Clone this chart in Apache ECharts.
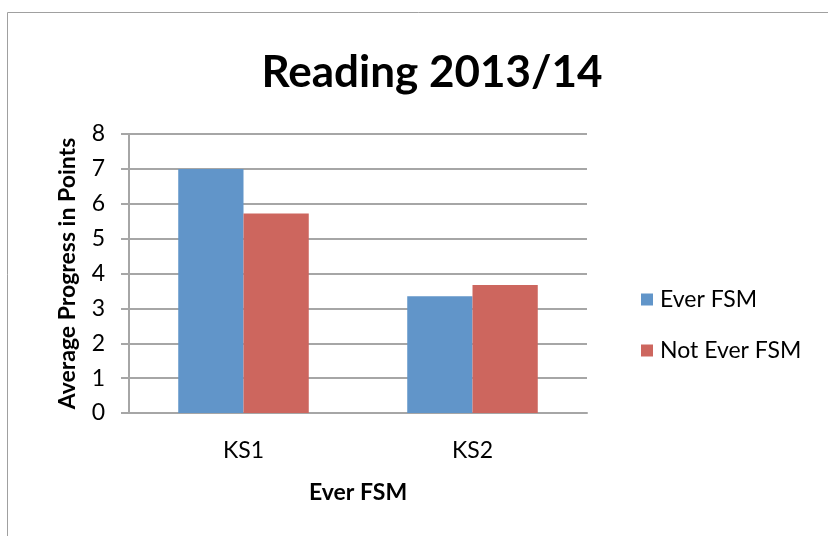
<!DOCTYPE html>
<html>
<head>
<meta charset="utf-8">
<script src="https://cdn.jsdelivr.net/npm/echarts@6/dist/echarts.min.js"></script>
<style>
  html, body { margin: 0; padding: 0; background: #fff; }
  #chart { width: 828px; height: 536px; }
</style>
</head>
<body>
<div id="chart"></div>
<script>
// chart data
const categories = ['KS1', 'KS2']
const everFsm = [7.0, 3.35]
const notEverFsm = [5.72, 3.67]
const seriesNames = ['Ever FSM', 'Not Ever FSM']

const font = 'Lato, "Open Sans", sans-serif'
const gridColor = '#a6a6a6'

const chart = echarts.init(document.getElementById('chart'))

chart.setOption({
  animation: false,
  backgroundColor: '#fff',
  textStyle: { fontFamily: font, color: '#000' },
  graphic: [
    {
      type: 'rect',
      shape: { x: 7.5, y: 12.5, width: 900, height: 600 },
      style: { fill: 'none', stroke: '#a0a0a0', lineWidth: 1 },
      silent: true,
    },
  ],
  title: {
    text: 'Reading 2013/14',
    left: 427,
    textAlign: 'center',
    top: 46,
    textStyle: { fontFamily: font, fontSize: 44, fontWeight: 'bold', color: '#000' },
  },
  legend: {
    orient: 'vertical',
    left: 636,
    top: 283,
    itemWidth: 12,
    itemHeight: 12,
    itemGap: 28,
    icon: 'rect',
    data: seriesNames,
    textStyle: { fontFamily: font, fontSize: 23, color: '#000', padding: [0, 0, 0, 2] },
  },
  grid: { left: 129, right: 241, top: 134, bottom: 123, containLabel: false },
  xAxis: {
    type: 'category',
    data: categories,
    name: 'Ever FSM',
    nameLocation: 'middle',
    nameGap: 68,
    nameTextStyle: { fontFamily: font, fontSize: 23, fontWeight: 'bold', color: '#000' },
    axisLine: { lineStyle: { color: gridColor, width: 2 } },
    axisTick: { show: false },
    axisLabel: { fontFamily: font, fontSize: 23, color: '#000', margin: 26 },
  },
  yAxis: {
    type: 'value',
    min: 0,
    max: 8,
    interval: 1,
    name: 'Average Progress in Points',
    nameLocation: 'middle',
    nameGap: 50,
    nameTextStyle: { fontFamily: font, fontSize: 23, fontWeight: 'bold', color: '#000' },
    axisLine: { show: true, lineStyle: { color: gridColor, width: 2 } },
    axisTick: { show: true, length: 8, lineStyle: { color: gridColor, width: 2 } },
    axisLabel: { fontFamily: font, fontSize: 23, color: '#000', margin: 24 },
    splitLine: { lineStyle: { color: gridColor, width: 2 } },
  },
  series: [
    {
      name: seriesNames[0],
      type: 'bar',
      data: everFsm,
      itemStyle: { color: '#6195c9' },
      barGap: '0%',
      barCategoryGap: '43%',
    },
    {
      name: seriesNames[1],
      type: 'bar',
      data: notEverFsm,
      itemStyle: { color: '#cd665e' },
    },
  ],
})
</script>
</body>
</html>
